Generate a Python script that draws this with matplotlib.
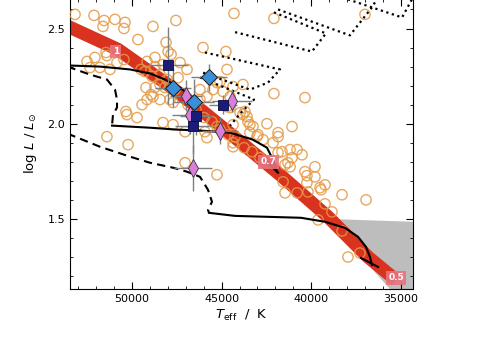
import matplotlib
matplotlib.use("Agg")
import matplotlib.pyplot as plt
import numpy as np

# ---- data ----
# observed sample (open circles): Teff [K], log L/Lsun
circ_T = [53180, 52120, 51560, 51620, 50950, 50390, 50450, 48830, 47550, 49670,
          48100, 46040, 44310, 42080, 37000, 44760, 44700, 52510, 52070, 51400,
          51230, 50840, 50450, 51790, 52340, 49160, 48720, 48720, 48270, 47320,
          49280, 48880, 48440, 48050, 47880, 47430, 49160, 49440, 48830, 48440,
          47880, 47710, 50280, 49720, 48270, 47710, 51400, 50220, 47040, 45930,
          45260, 44360, 43970, 44700, 44530, 45820, 46210, 45260, 44360, 43810,
          46930, 45090, 45480, 44920, 42080, 40350, 43700, 43580, 43420, 42470,
          41070, 41850, 41850, 42130, 41850, 40790, 40510, 41300, 39790, 43420,
          43030, 42690, 44250, 41460, 41070, 40350, 40240, 39790, 39230, 39510,
          40240, 40790, 41460, 41570, 41180, 38280, 36940, 39230, 38840, 39620,
          38280, 37950, 37280, 50340, 48940, 44530, 43810, 43530, 43250, 42970,
          44360, 44360, 45260, 41630, 41180, 45820, 47040, 40180, 39450, 47600,
          46880, 46430, 45980, 45540, 45090, 44640, 43750, 43300, 42860, 48160,
          46210, 48440, 47990, 47820, 49500, 49220, 48720, 51450]
circ_L = [2.574, 2.569, 2.542, 2.511, 2.548, 2.532, 2.500, 2.511, 2.542, 2.442,
          2.427, 2.400, 2.579, 2.553, 2.574, 2.379, 2.285, 2.327, 2.348, 2.358,
          2.285, 2.321, 2.337, 2.295, 2.295, 2.327, 2.348, 2.300, 2.311, 2.321,
          2.274, 2.248, 2.258, 2.232, 2.195, 2.242, 2.127, 2.100, 2.142, 2.127,
          2.127, 2.111, 2.048, 2.032, 2.006, 1.995, 1.932, 1.890, 1.795, 1.958,
          1.985, 1.995, 2.058, 2.090, 2.142, 2.142, 2.179, 2.216, 2.195, 2.206,
          2.285, 2.221, 2.179, 2.169, 2.158, 2.137, 2.064, 2.037, 1.995, 2.000,
          1.985, 1.953, 1.932, 1.900, 1.848, 1.864, 1.837, 1.795, 1.774, 1.953,
          1.932, 1.916, 1.932, 1.785, 1.821, 1.748, 1.727, 1.721, 1.679, 1.664,
          1.690, 1.637, 1.637, 1.695, 1.774, 1.627, 1.600, 1.579, 1.537, 1.495,
          1.437, 1.300, 1.321, 2.064, 2.153, 2.085, 2.048, 2.011, 1.985, 1.942,
          1.900, 1.879, 1.732, 1.853, 1.864, 1.927, 1.958, 1.642, 1.653, 2.179,
          2.100, 2.074, 2.032, 2.011, 1.969, 1.942, 1.874, 1.853, 1.821, 2.190,
          2.127, 2.206, 2.379, 2.364, 2.285, 2.190, 2.190, 2.374]

# squares (navy)
sq_T = [47990, 46430, 46600, 44920]
sq_L = [2.306, 2.042, 1.990, 2.100]
sq_Terr = [1100, 900, 1000, 800]
sq_Lerr = [0.20, 0.10, 0.15, 0.05]
# diamonds (blue)
bd_T = [47700, 46540, 45700]
bd_L = [2.190, 2.116, 2.243]
bd_Terr = [1000, 1100, 1000]
bd_Lerr = [0.10, 0.12, 0.07]
# thin diamonds (violet)
vd_T = [46990, 46760, 44420, 45080, 46600]
vd_L = [2.148, 2.048, 2.121, 1.964, 1.769]
vd_Terr = [900, 1000, 1100, 1000, 1050]
vd_Lerr = [0.08, 0.10, 0.06, 0.07, 0.12]

# thick red band (ZAMS-like sequence) and mass labels
band_T = [53571, 50781, 48159, 46038, 43974, 41742, 39063, 36831, 35269]
band_L = [2.511, 2.390, 2.216, 2.064, 1.906, 1.732, 1.511, 1.300, 1.179]
lab_txt = ["1", "0.7", "0.5"]
lab_T = [50900, 42380, 35250]
lab_L = [2.38, 1.80, 1.19]

# evolutionary tracks
trA_T = [53600, 51786, 50112, 48996, 48159, 47322, 46764, 46373]
trA_L = [2.306, 2.300, 2.285, 2.264, 2.232, 2.190, 2.148, 2.100]
trB_dash_T = [53600, 52344, 51395, 50949, 50837, 50837, 51060, 51116]
trB_dash_L = [2.300, 2.258, 2.232, 2.179, 2.127, 2.085, 2.048, 1.990]
trB_T = [51116, 48996, 47489, 46206, 44532, 43248, 42467, 42132, 41909]
trB_L = [1.990, 1.979, 1.969, 1.964, 1.953, 1.916, 1.874, 1.811, 1.748]
trB_hook_T = [42523, 41853]
trB_hook_L = [1.806, 1.743]
trC_dash_T = [53600, 51786, 50112, 48996, 47712, 46931, 46206, 45759, 45536, 45759, 45703]
trC_dash_L = [1.948, 1.879, 1.827, 1.795, 1.769, 1.748, 1.721, 1.653, 1.590, 1.548, 1.532]
trC_T = [45703, 44253, 40570, 39231, 38115, 37389, 36943, 36720, 36608]
trC_L = [1.532, 1.516, 1.506, 1.485, 1.453, 1.406, 1.353, 1.300, 1.258]
trC_hook_T = [37222, 36273]
trC_hook_L = [1.295, 1.248]

# dotted tracks
dot_T = [[37950, 34930, 34260],
         [41850, 37840, 36610, 36270],
         [42080, 39180, 39960, 44420],
         [45930, 41740, 42410, 43420, 46210],
         [46210, 43190, 43860, 44530]]
dot_L = [[2.653, 2.558, 2.674],
         [2.600, 2.464, 2.611, 2.664],
         [2.585, 2.474, 2.379, 2.485],
         [2.374, 2.285, 2.216, 2.179, 2.274],
         [2.243, 2.127, 2.064, 1.990]]

# gray region
gray_T = [39120, 34320, 34320, 35300]
gray_L = [1.500, 1.485, 1.10, 1.10]

# ---- figure ----
plt.rcParams['font.family'] = ['DejaVu Sans']
fig = plt.figure(figsize=(4.88, 3.38), dpi=100)
ax = fig.add_axes([70/488, 1-289/338, 343/488, 289/338 + 0.003])

ax.fill(gray_T, gray_L, color='#bdbdbd', lw=0, zorder=1)

ax.plot(band_T, band_L, color='#d9321f', lw=9.5, solid_capstyle='butt', zorder=2)

ax.scatter(circ_T, circ_L, s=55, facecolors='none', edgecolors='#e39a45',
           linewidths=1.0, alpha=0.85, zorder=3)

for tt, ll in zip(dot_T, dot_L):
    ax.plot(tt, ll, color='k', lw=1.6, ls=(0, (1, 1.6)), zorder=4)

ax.plot(trA_T, trA_L, color='k', lw=1.5, zorder=4)
ax.plot(trB_dash_T, trB_dash_L, color='k', lw=1.5, ls=(0, (4, 2.5)), zorder=4)
ax.plot(trB_T, trB_L, color='k', lw=1.5, zorder=4)
ax.plot(trB_hook_T, trB_hook_L, color='k', lw=1.5, zorder=4)
ax.plot(trC_dash_T, trC_dash_L, color='k', lw=1.5, ls=(0, (4, 2.5)), zorder=4)
ax.plot(trC_T, trC_L, color='k', lw=1.5, zorder=4)
ax.plot(trC_hook_T, trC_hook_L, color='k', lw=1.5, zorder=4)

ekw = dict(ls='none', ecolor='#7f7f7f', elinewidth=1.0, capsize=0, zorder=5)
ax.errorbar(vd_T, vd_L, xerr=vd_Terr, yerr=vd_Lerr, marker='d', ms=9,
            mfc='#d97fdb', mec='#333333', mew=0.6, **ekw)
ax.errorbar(sq_T, sq_L, xerr=sq_Terr, yerr=sq_Lerr, marker='s', ms=7,
            mfc='#1b1b7a', mec='#0a0a40', mew=0.6, **ekw)
ax.errorbar(bd_T, bd_L, xerr=bd_Terr, yerr=bd_Lerr, marker='D', ms=8,
            mfc='#3b8fd9', mec='#1a1a1a', mew=0.7, **ekw)

for t, T, L in zip(lab_txt, lab_T, lab_L):
    ax.text(T, L, t, color='white', fontsize=6.5, fontweight='bold',
            ha='center', va='center', zorder=6,
            bbox=dict(boxstyle='square,pad=0.25', fc='#e8747e', ec='none', alpha=0.9))

ax.set_xlim(53460, 34320)
ax.set_ylim(1.132, 2.655)
ax.set_xticks([50000, 45000, 40000, 35000])
ax.set_xticks(np.arange(35000, 53001, 1000), minor=True)
ax.set_yticks([1.5, 2.0, 2.5])
ax.set_yticks(np.arange(1.2, 2.61, 0.1), minor=True)
ax.tick_params(which='both', direction='in', top=True, right=True, labelsize=8)
ax.tick_params(which='major', length=5, width=0.8)
ax.tick_params(which='minor', length=2.5, width=0.6)
for s in ax.spines.values():
    s.set_linewidth(0.8)

ax.set_xlabel(r'$T_{\rm eff}$  /  K', fontsize=9.5, labelpad=3)
ax.set_ylabel(r'log $L$ / $L_{\odot}$', fontsize=9.5, labelpad=6)

fig.savefig('out.png', dpi=100)
